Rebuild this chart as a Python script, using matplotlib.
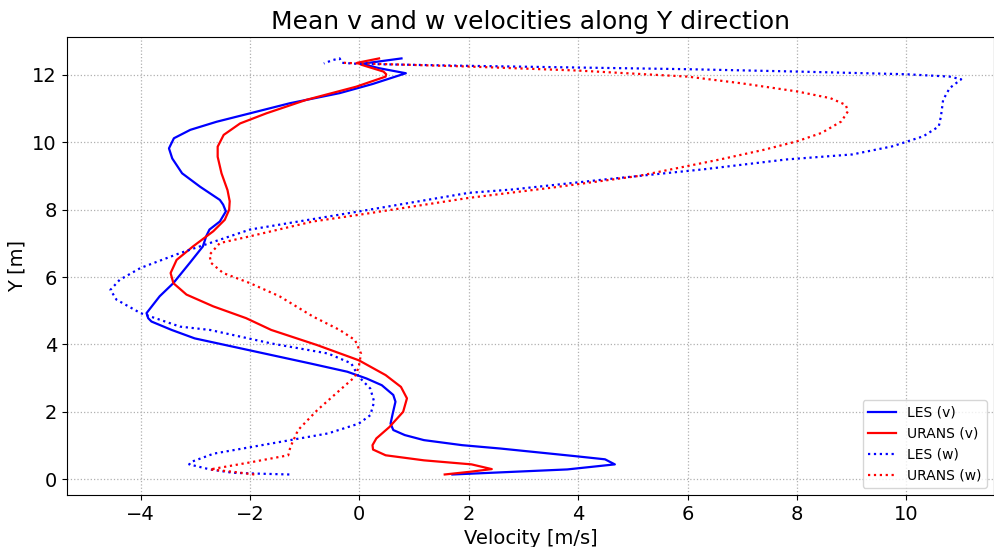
import matplotlib
matplotlib.use("Agg")
import matplotlib.pyplot as plt

# LES (v): (velocity, Y)
les_v_x = [1.70, 3.80, 4.67, 4.49, 3.97, 2.58, 1.88, 1.18, 0.83, 0.62, 0.57, 0.61, 0.66, 0.62,
           0.41, 0.13, -0.22, -0.91, -1.96, -3.01, -3.43, -3.80, -3.86, -3.89, -3.65, -3.40,
           -3.10, -2.86, -2.80, -2.74, -2.55, -2.44, -2.49, -2.55, -2.91, -3.24, -3.42, -3.48,
           -3.39, -3.09, -2.61, -2.00, -1.27, -0.36, 0.24, 0.85, 0.36, 0.04, 0.77]
les_v_y = [0.14, 0.29, 0.44, 0.59, 0.68, 0.91, 1.01, 1.16, 1.31, 1.46, 1.65, 1.95, 2.30, 2.50,
           2.79, 2.99, 3.19, 3.44, 3.81, 4.18, 4.43, 4.68, 4.78, 4.93, 5.43, 5.82,
           6.42, 6.91, 7.21, 7.41, 7.65, 7.95, 8.15, 8.29, 8.68, 9.08, 9.52, 9.82,
           10.12, 10.37, 10.61, 10.86, 11.16, 11.46, 11.73, 12.05, 12.20, 12.33, 12.49]

# URANS (v)
urans_v_x = [1.56, 2.02, 2.42, 2.05, 1.18, 0.48, 0.25, 0.24, 0.31, 0.55, 0.80, 0.87, 0.76, 0.48,
             -0.01, -0.77, -1.61, -2.07, -2.67, -3.16, -3.40, -3.45, -3.34, -3.04, -2.67, -2.46,
             -2.38, -2.37, -2.41, -2.52, -2.59, -2.59, -2.48, -2.18, -1.70, -0.97, -0.06, 0.48,
             0.49, 0.44, 0.04, -0.04, 0.36]
urans_v_y = [0.14, 0.22, 0.30, 0.44, 0.56, 0.71, 0.88, 1.01, 1.21, 1.55, 2.00, 2.40, 2.74, 3.09,
             3.53, 3.98, 4.43, 4.78, 5.13, 5.48, 5.82, 6.12, 6.51, 6.91, 7.36, 7.70,
             8.00, 8.25, 8.58, 9.08, 9.57, 9.87, 10.22, 10.56, 10.86, 11.26, 11.65, 11.95,
             12.02, 12.10, 12.30, 12.36, 12.49]

# LES (w)
les_w_x = [-1.28, -1.96, -2.31, -2.73, -3.11, -3.08, -2.66, -1.61, -0.57, -0.01, 0.20, 0.27,
           0.20, -0.01, -0.15, -0.57, -1.61, -2.73, -3.28, -4.00, -4.44, -4.55, -4.38, -4.00,
           -3.28, -2.00, 0.00, 2.00, 2.80, 4.50, 6.30, 7.80, 9.01, 9.74, 10.31, 10.59, 10.63,
           10.67, 10.79, 11.00, 10.79, 10.00, 8.00, 6.00, 3.99, 1.98, -0.04, -0.32, -0.36,
           -0.49, -0.65]
les_w_y = [0.14, 0.17, 0.19, 0.29, 0.44, 0.51, 0.76, 1.06, 1.36, 1.65, 1.90, 2.30,
           2.69, 3.04, 3.44, 3.73, 4.03, 4.43, 4.53, 4.93, 5.33, 5.62, 5.92, 6.27,
           6.71, 7.41, 7.95, 8.50, 8.60, 8.90, 9.20, 9.49, 9.64, 9.88, 10.18, 10.47, 10.77,
           11.26, 11.61, 11.87, 11.95, 12.02, 12.10, 12.17, 12.22, 12.27, 12.33, 12.36, 12.49,
           12.44, 12.34]

# URANS (w)
urans_w_x = [-1.92, -2.31, -2.73, -1.96, -1.30, -1.26, -1.12, -0.77, -0.36, -0.08, -0.01, 0.03,
             -0.08, -0.36, -0.85, -1.46, -2.00, -2.49, -2.71, -2.74, -2.55, -2.00, -0.85, 0.00,
             2.00, 3.50, 5.10, 6.59, 7.40, 8.00, 8.45, 8.81, 8.93, 8.89, 8.61, 8.00, 6.99,
             6.00, 3.99, 1.98, 0.04, -0.28]
urans_w_y = [0.14, 0.22, 0.29, 0.51, 0.71, 0.96, 1.46, 2.05, 2.64, 3.04, 3.34, 3.73,
             4.13, 4.43, 4.83, 5.43, 5.82, 6.12, 6.42, 6.66, 7.01, 7.21, 7.65, 7.85,
             8.35, 8.65, 9.00, 9.49, 9.78, 10.03, 10.28, 10.62, 10.92, 11.11, 11.31, 11.51, 11.75,
             11.95, 12.13, 12.25, 12.34, 12.36]

fig, ax = plt.subplots(figsize=(9.95, 5.47), dpi=100)
fig.subplots_adjust(left=0.067, right=0.999, top=0.932, bottom=0.095)

ax.plot(les_v_x, les_v_y, c="blue", lw=1.6, label="LES (v)")
ax.plot(urans_v_x, urans_v_y, c="red", lw=1.6, label="URANS (v)")
ax.plot(les_w_x, les_w_y, c="blue", lw=1.6, ls=":", label="LES (w)")
ax.plot(urans_w_x, urans_w_y, c="red", lw=1.6, ls=":", label="URANS (w)")

ax.set_xlim(-5.35, 11.6)
ax.set_ylim(-0.47, 13.12)
ax.grid(True, ls=":", color="#b0b0b0", lw=0.9)
ax.tick_params(labelsize=14)
ax.set_xlabel("Velocity [m/s]", fontsize=14)
ax.set_ylabel("Y [m]", fontsize=14)
ax.set_title("Mean v and w velocities along Y direction", fontsize=18)
ax.legend(loc="lower right", fontsize=10)

fig.savefig("out.png", dpi=100)
